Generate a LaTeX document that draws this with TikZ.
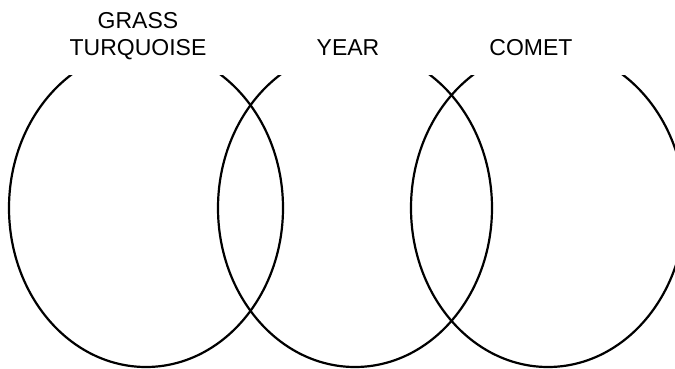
\documentclass[tikz,border=0pt]{standalone}
\usepackage{fontspec}
\setmainfont{Liberation Sans}
\begin{document}
\begin{tikzpicture}[x=1pt,y=1pt,
  ring/.style={draw=black,line width=2.2pt},
  lbl/.style={inner sep=0pt,anchor=base,font=\fontsize{23}{27}\selectfont}]
\useasboundingbox (0,0) rectangle (675,368);
\begin{scope}
\clip (-10,-10) rectangle (685,293);
\draw[ring] (146,160) ellipse [x radius=137, y radius=159];
\draw[ring] (355,160) ellipse [x radius=137, y radius=159];
\draw[ring] (548,160) ellipse [x radius=137, y radius=159];
\end{scope}
\node[lbl] (grass) at (138,340) {GRASS};
\node[lbl] (turq) at (138,313) {TURQUOISE};
\node[lbl] (year) at (348,313) {YEAR};
\node[lbl] (comet) at (531,313) {COMET};
\end{tikzpicture}
\end{document}
